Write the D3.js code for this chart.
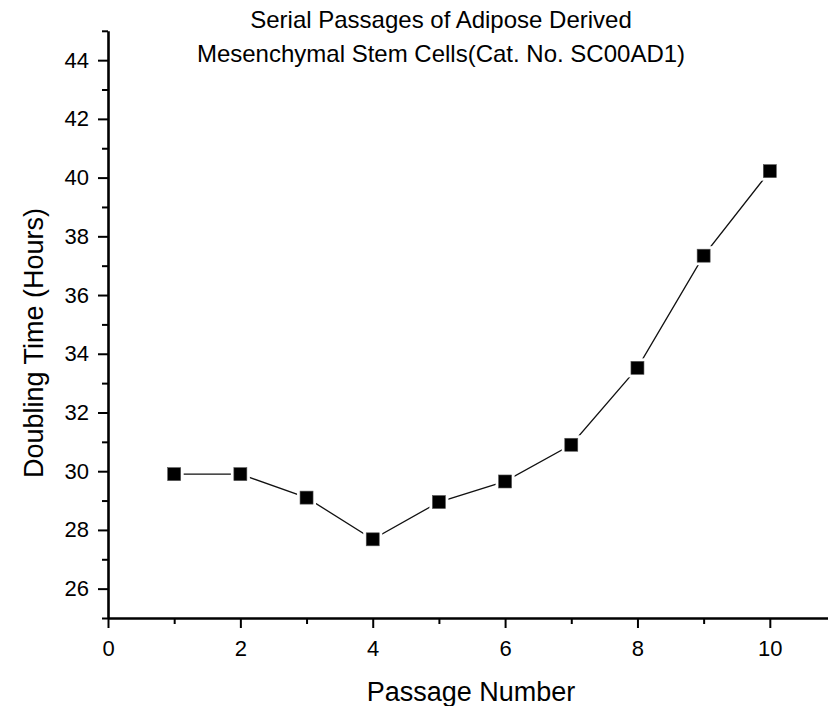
<!DOCTYPE html>
<html>
<head>
<meta charset="utf-8">
<script src="https://cdn.jsdelivr.net/npm/d3@7"></script>
<style>
  body { margin: 0; background: #fff; }
  svg text { font-family: "Liberation Sans", Arial, sans-serif; fill: #000; }
</style>
</head>
<body>
<div id="chart"></div>
<script>
// data
const passages = [1, 2, 3, 4, 5, 6, 7, 8, 9, 10];
const doublingHours = [29.9, 29.9, 29.1, 27.68, 28.95, 29.65, 30.9, 33.52, 37.34, 40.22];
const xMajorTicks = [0, 2, 4, 6, 8, 10];
const xMinorTicks = [1, 3, 5, 7, 9];
const yMajorTicks = [26, 28, 30, 32, 34, 36, 38, 40, 42, 44];
const yMinorTicks = [25, 27, 29, 31, 33, 35, 37, 39, 41, 43, 45];
const titleLines = ["Serial Passages of Adipose Derived", "Mesenchymal Stem Cells(Cat. No. SC00AD1)"];

const W = 828, H = 706;

const svg = d3.select("#chart").append("svg")
	.attr("width", W)
	.attr("height", H);

const x = d3.scaleLinear().domain([0, 11]).range([108, 836]);
const y = d3.scaleLinear().domain([25, 45]).range([618, 30.8]);

// minor ticks (no labels)
svg.append("g")
	.attr("transform", `translate(0, ${y(25)})`)
	.call(d3.axisBottom(x).tickValues(xMinorTicks).tickSize(6).tickSizeOuter(0).tickFormat(""))
	.call(g => g.select(".domain").remove())
	.selectAll("line").attr("stroke-width", 2);

svg.append("g")
	.attr("transform", `translate(${x(0)}, 0)`)
	.call(d3.axisLeft(y).tickValues(yMinorTicks).tickSize(6).tickSizeOuter(0).tickFormat(""))
	.call(g => g.select(".domain").remove())
	.selectAll("line").attr("stroke-width", 2);

// major axes
const xAxis = svg.append("g")
	.attr("transform", `translate(0, ${y(25)})`)
	.call(d3.axisBottom(x).tickValues(xMajorTicks).tickSize(10).tickSizeOuter(0).tickPadding(12));

const yAxis = svg.append("g")
	.attr("transform", `translate(${x(0)}, 0)`)
	.call(d3.axisLeft(y).tickValues(yMajorTicks).tickSize(10).tickSizeOuter(0).tickPadding(9));

[xAxis, yAxis].forEach(a => {
	a.select(".domain").attr("stroke-width", 2.6);
	a.selectAll(".tick line").attr("stroke-width", 2);
	a.selectAll("text")
		.style("font-size", "22px")
		.style("font-family", "'Liberation Sans', Arial, sans-serif");
});

// line + markers
const pts = passages.map((p, i) => ({ p: p, v: doublingHours[i] }));

svg.append("path")
	.datum(pts)
	.attr("fill", "none")
	.attr("stroke", "#111")
	.attr("stroke-width", 1.3)
	.attr("d", d3.line().x(d => x(d.p)).y(d => y(d.v)));

const ms = 13;
// white halo so the line stops short of each marker
svg.selectAll("rect.halo")
	.data(pts)
	.enter().append("rect")
	.attr("class", "halo")
	.attr("x", d => x(d.p) - ms / 2 - 3)
	.attr("y", d => y(d.v) - ms / 2 - 3)
	.attr("width", ms + 6)
	.attr("height", ms + 6)
	.attr("fill", "#fff");

svg.selectAll("rect.mark")
	.data(pts)
	.enter().append("rect")
	.attr("class", "mark")
	.attr("x", d => x(d.p) - ms / 2)
	.attr("y", d => y(d.v) - ms / 2)
	.attr("width", ms)
	.attr("height", ms)
	.attr("fill", "#000")
	.attr("stroke", "#555")
	.attr("stroke-width", 0.6);

// title
svg.append("text")
	.attr("x", 441)
	.attr("y", 28)
	.attr("text-anchor", "middle")
	.style("font-size", "24px")
	.selectAll("tspan")
	.data(titleLines)
	.enter().append("tspan")
	.attr("x", 441)
	.attr("dy", (d, i) => i === 0 ? 0 : 34)
	.text(d => d);

// axis titles
svg.append("text")
	.attr("x", 471)
	.attr("y", 701)
	.attr("text-anchor", "middle")
	.style("font-size", "27px")
	.text("Passage Number");

svg.append("text")
	.attr("transform", "translate(43, 343) rotate(-90)")
	.attr("text-anchor", "middle")
	.style("font-size", "27px")
	.text("Doubling Time (Hours)");
</script>
</body>
</html>
